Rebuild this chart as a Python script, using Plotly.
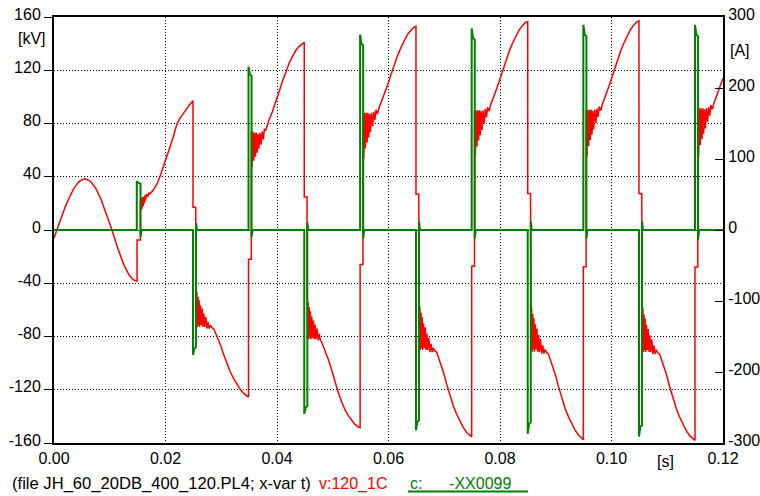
import plotly.graph_objects as go

# ---------------- data ----------------
# red trace v:120_1C  (kV, left axis) -- one list pair per half-cycle
v_t_00 = [0, 0.0005, 0.001, 0.0015, 0.002, 0.0025, 0.003, 0.0035, 0.004, 0.0045, 0.005,
          0.0056, 0.0065, 0.0075, 0.0085, 0.0095, 0.0104, 0.0115, 0.0125, 0.0135, 0.0142]
v_kv_00 = [-6, 0, 5.9, 11.7, 17.2, 22.2, 26.8, 30.7, 33.9, 36.3, 37.8,
           38.5, 36.8, 31.3, 22.4, 11.2, 0, -14.4, -25.8, -34.0, -37.3]

v_t_01 = [0.01489, 0.01489, 0.01550, 0.01550, 0.0156, 0.0157, 0.0158, 0.0159, 0.0160, 0.0161,
          0.0162, 0.0163, 0.0164, 0.0166, 0.0168, 0.0170, 0.0172, 0.0178, 0.0184, 0.0190,
          0.0196, 0.0201, 0.0207, 0.0214, 0.0220, 0.0226, 0.0232, 0.0238, 0.0244]
v_kv_01 = [-38.5, -7.5, -7.5, 22, 15, 24, 16, 25, 18, 25,
           20, 26, 22, 27, 25, 28, 27, 30, 34, 40,
           47, 53, 61, 70, 79, 84, 88, 91, 94.5]

v_t_02 = [0.02493, 0.02493, 0.02543, 0.02543, 0.02553, 0.02563, 0.02573, 0.02583, 0.02593, 0.02603,
          0.02613, 0.02628, 0.02643, 0.02658, 0.02673, 0.02688, 0.02703, 0.02723, 0.02743, 0.02763,
          0.02783, 0.02803, 0.02833, 0.02863, 0.02923, 0.02983, 0.03043, 0.03103, 0.03163, 0.03223,
          0.03283, 0.03343, 0.03403, 0.03463]
v_kv_02 = [97, 17, 17, -44.6, -72.8, -46.4, -72.8, -50.2, -71.5, -52.7,
           -72.8, -56.5, -71.5, -59.0, -72.8, -62.8, -72.8, -65.3, -74.0, -69.0,
           -74.0, -71.5, -73.4, -74.0, -79.7, -86.0, -93.5, -100.4, -106.7, -111.7,
           -116.1, -119.9, -122.7, -124.6]

v_t_03 = [0.03489, 0.03489, 0.03539, 0.03539, 0.03554, 0.03569, 0.03584, 0.03599, 0.03614, 0.03629,
          0.03644, 0.03659, 0.03674, 0.03694, 0.03714, 0.03734, 0.03754, 0.03774, 0.03799, 0.03829,
          0.03859, 0.03919, 0.03979, 0.04039, 0.04099, 0.04159, 0.04219, 0.04279, 0.04339, 0.04399,
          0.04449]
v_kv_03 = [-125.5, -22, -22, 74, 47.5, 74, 52, 73, 55, 73,
           58, 72, 61, 73, 64, 74, 68, 76, 75, 79,
           83, 89, 96, 104, 112, 119.5, 125.5, 130.5, 135, 138,
           140]

v_t_04 = [0.04489, 0.04489, 0.04539, 0.04539, 0.04549, 0.04559, 0.04569, 0.04579, 0.04589, 0.04599,
          0.04609, 0.04624, 0.04639, 0.04654, 0.04669, 0.04684, 0.04699, 0.04719, 0.04739, 0.04759,
          0.04779, 0.04799, 0.04829, 0.04859, 0.04919, 0.04979, 0.05039, 0.05099, 0.05159, 0.05219,
          0.05279, 0.05339, 0.05399, 0.05459]
v_kv_04 = [141, 24.7, 24.7, -52, -82, -54, -82, -58, -81, -61,
           -82, -65, -81, -68, -82, -71, -82, -74, -83, -78,
           -83, -84, -87, -90, -97, -105, -114, -122, -129, -135,
           -139.5, -143, -146, -148]

v_t_05 = [0.05491, 0.05491, 0.05541, 0.05541, 0.05556, 0.05571, 0.05586, 0.05601, 0.05616, 0.05631,
          0.05646, 0.05661, 0.05676, 0.05696, 0.05716, 0.05736, 0.05756, 0.05776, 0.05801, 0.05831,
          0.05861, 0.05921, 0.05981, 0.06041, 0.06101, 0.06161, 0.06221, 0.06281, 0.06341, 0.06401,
          0.06451]
v_kv_05 = [-148.5, -26, -26, 88.0, 53.6, 88.0, 61.2, 88.0, 65.8, 88.0,
           69.6, 87.2, 73.4, 88.0, 78.0, 88.7, 82.6, 90.3, 87.2, 91.8,
           94.9, 101.7, 108.6, 116.3, 123.9, 130.8, 136.9, 142.3, 146.9, 149.9,
           152.2]

v_t_06 = [0.06493, 0.06493, 0.06543, 0.06543, 0.06553, 0.06563, 0.06573, 0.06583, 0.06593, 0.06603,
          0.06613, 0.06628, 0.06643, 0.06658, 0.06673, 0.06688, 0.06703, 0.06723, 0.06743, 0.06763,
          0.06783, 0.06803, 0.06833, 0.06863, 0.06923, 0.06983, 0.07043, 0.07103, 0.07163, 0.07223,
          0.07283, 0.07343, 0.07403, 0.07463]
v_kv_06 = [153, 26.8, 26.8, -55.2, -90.2, -57.5, -90.2, -62.2, -88.6, -65.3,
           -90.2, -70.0, -88.6, -73.1, -90.2, -77.8, -90.2, -80.9, -91.7, -85.5,
           -91.7, -88.6, -91.0, -91.7, -98.7, -106.5, -115.8, -124.4, -132.2, -138.4,
           -143.8, -148.5, -152.1, -154.4]

v_t_07 = [0.07492, 0.07492, 0.07542, 0.07542, 0.07557, 0.07572, 0.07587, 0.07602, 0.07617, 0.07632,
          0.07647, 0.07662, 0.07677, 0.07697, 0.07717, 0.07737, 0.07757, 0.07777, 0.07802, 0.07832,
          0.07862, 0.07922, 0.07982, 0.08042, 0.08102, 0.08162, 0.08222, 0.08282, 0.08342, 0.08402,
          0.08452]
v_kv_07 = [-155.5, -27.2, -27.2, 90.0, 54.8, 90.0, 62.6, 90.0, 67.3, 90.0,
           71.2, 89.2, 75.1, 90.0, 79.8, 90.8, 84.5, 92.3, 89.2, 93.9,
           97.0, 104.1, 111.1, 118.9, 126.8, 133.8, 140.1, 145.5, 150.2, 153.4,
           155.7]

v_t_08 = [0.08497, 0.08497, 0.08547, 0.08547, 0.08557, 0.08567, 0.08577, 0.08587, 0.08597, 0.08607,
          0.08617, 0.08632, 0.08647, 0.08662, 0.08677, 0.08692, 0.08707, 0.08727, 0.08747, 0.08767,
          0.08787, 0.08807, 0.08837, 0.08867, 0.08927, 0.08987, 0.09047, 0.09107, 0.09167, 0.09227,
          0.09287, 0.09347, 0.09407, 0.09467]
v_kv_08 = [156.5, 27.4, 27.4, -55.9, -91.4, -58.3, -91.4, -63.0, -89.8, -66.2,
           -91.4, -70.9, -89.8, -74.0, -91.4, -78.8, -91.4, -81.9, -92.9, -86.6,
           -92.9, -89.8, -92.1, -92.9, -100.0, -107.9, -117.3, -126.0, -133.9, -140.2,
           -145.7, -150.4, -154.0, -156.4]

v_t_09 = [0.09495, 0.09495, 0.09545, 0.09545, 0.0956, 0.09575, 0.0959, 0.09605, 0.0962, 0.09635,
          0.0965, 0.09665, 0.0968, 0.097, 0.0972, 0.0974, 0.0976, 0.0978, 0.09805, 0.09835,
          0.09865, 0.09925, 0.09985, 0.10045, 0.10105, 0.10165, 0.10225, 0.10285, 0.10345, 0.10405,
          0.10455]
v_kv_09 = [-157.5, -27.6, -27.6, 90.4, 55.0, 90.4, 62.9, 90.4, 67.6, 90.4,
           71.5, 89.6, 75.5, 90.4, 80.2, 91.2, 84.9, 92.7, 89.6, 94.3,
           97.5, 104.5, 111.6, 119.5, 127.3, 134.4, 140.7, 146.2, 150.9, 154.1,
           156.4]

v_t_10 = [0.10493, 0.10493, 0.10543, 0.10543, 0.10553, 0.10563, 0.10573, 0.10583, 0.10593, 0.10603,
          0.10613, 0.10628, 0.10643, 0.10658, 0.10673, 0.10688, 0.10703, 0.10723, 0.10743, 0.10763,
          0.10783, 0.10803, 0.10833, 0.10863, 0.10923, 0.10983, 0.11043, 0.11103, 0.11163, 0.11223,
          0.11283, 0.11343, 0.11403, 0.11463]
v_kv_10 = [157.2, 27.5, 27.5, -56.1, -91.6, -58.5, -91.6, -63.2, -90.1, -66.4,
           -91.6, -71.1, -90.1, -74.3, -91.6, -79.0, -91.6, -82.2, -93.2, -86.9,
           -93.2, -90.1, -92.4, -93.2, -100.3, -108.2, -117.7, -126.4, -134.3, -140.6,
           -146.2, -150.9, -154.5, -156.9]

v_t_11 = [0.11498, 0.11498, 0.11548, 0.11548, 0.11563, 0.11578, 0.11593, 0.11608, 0.11623, 0.11638,
          0.11653, 0.11668, 0.11683, 0.11703, 0.11723, 0.11743, 0.11763, 0.11783, 0.11808, 0.11838,
          0.11868, 0.11928, 0.12]
v_kv_11 = [-158, -27.7, -27.7, 91.4, 55.7, 91.4, 63.6, 91.4, 68.4, 91.4,
           72.3, 90.6, 76.3, 91.4, 81.1, 92.2, 85.9, 93.8, 90.6, 95.4,
           98.6, 105.7, 114]

# green trace c: -XX0099 (A, right axis)
i_t = [0, 0.01485, 0.01485, 0.0150, 0.01552, 0.01552, 0.0157,
       0.02493, 0.02493, 0.02503, 0.02518, 0.02548, 0.02548, 0.02565,
       0.03489, 0.03489, 0.03499, 0.03514, 0.03544, 0.03544, 0.03561,
       0.04489, 0.04489, 0.04499, 0.04514, 0.04544, 0.04544, 0.04561,
       0.05491, 0.05491, 0.05501, 0.05516, 0.05546, 0.05546, 0.05563,
       0.06493, 0.06493, 0.06503, 0.06518, 0.06548, 0.06548, 0.06565,
       0.07492, 0.07492, 0.07502, 0.07517, 0.07547, 0.07547, 0.07564,
       0.08497, 0.08497, 0.08507, 0.08522, 0.08552, 0.08552, 0.08569,
       0.09495, 0.09495, 0.09505, 0.0952, 0.0955, 0.0955, 0.09567,
       0.10493, 0.10493, 0.10503, 0.10518, 0.10548, 0.10548, 0.10565,
       0.11498, 0.11498, 0.11508, 0.11523, 0.11553, 0.11553, 0.1157,
       0.12]
i_a = [0, 0, 69, 67, 65, -10, 0,
       0, -176, -171, -167, -165, 10, 0,
       0, 230, 224, 219, 217, -10, 0,
       0, -259, -254, -250, -248, 11, 0,
       0, 275, 268, 262, 260, -12, 0,
       0, -282, -276, -270, -268, 12, 0,
       0, 284, 276, 270, 268, -12, 0,
       0, -287, -280, -273, -271, 12, 0,
       0, 289, 282, 275, 273, -12, 0,
       0, -291, -284, -277, -275, 12, 0,
       0, 289, 282, 275, 273, -14, 0,
       0]

x_ticks = [0.00, 0.02, 0.04, 0.06, 0.08, 0.10, 0.12]
x_labels = ["0.00", "0.02", "0.04", "0.06", "0.08", "0.10", "0.12"]
kv_ticks = [-160, -120, -80, -40, 0, 40, 80, 120, 160]
kv_labels = ["-160", "-120", "-80", "-40", "0", "40", "80", "120", "160"]
a_ticks = [-300, -200, -100, 0, 100, 200, 300]
a_labels = ["-300", "-200", "-100", "0", "100", "200", "300"]

caption_file = "(file JH_60_20DB_400_120.PL4; x-var t)"
caption_v = "v:120_1C"
caption_c = "c:\u00a0\u00a0\u00a0\u00a0\u00a0\u00a0-XX0099"

# ---------------- figure ----------------
volt_t = (v_t_00 + v_t_01 + v_t_02 + v_t_03 + v_t_04 + v_t_05 + v_t_06 +
          v_t_07 + v_t_08 + v_t_09 + v_t_10 + v_t_11)
volt_kv = (v_kv_00 + v_kv_01 + v_kv_02 + v_kv_03 + v_kv_04 + v_kv_05 + v_kv_06 +
           v_kv_07 + v_kv_08 + v_kv_09 + v_kv_10 + v_kv_11)

FONT = "Liberation Sans, Arial, sans-serif"
RED = "#ff0000"
GREEN = "#008000"

fig = go.Figure()
fig.add_trace(go.Scatter(x=volt_t, y=volt_kv, mode="lines",
                         line=dict(color=RED, width=1.5), yaxis="y", hoverinfo="skip"))
fig.add_trace(go.Scatter(x=i_t, y=i_a, mode="lines",
                         line=dict(color=GREEN, width=2), yaxis="y2", hoverinfo="skip"))

grid = dict(showgrid=True, gridcolor="#000000", gridwidth=1, griddash="1px,2px")

fig.update_layout(
    width=760, height=496,
    margin=dict(l=54, r=37, t=17, b=53, autoexpand=False),
    paper_bgcolor="white", plot_bgcolor="white",
    showlegend=False, hovermode=False,
    font=dict(family=FONT, size=16, color="black"),
    xaxis=dict(range=[0, 0.12], tickvals=x_ticks, ticktext=x_labels, automargin=False,
               showline=True, linecolor="black", linewidth=2, mirror=True,
               zeroline=False, ticks="", ticklabelstandoff=0,
               ticklabeloverflow="allow", **grid),
    yaxis=dict(range=[-160, 160], tickvals=kv_ticks, ticktext=kv_labels, automargin=False,
               showline=True, linecolor="black", linewidth=2, mirror=True,
               zeroline=False, ticks="outside", ticklen=8, tickcolor="black",
               tickwidth=1, ticklabelshift=-3, ticklabeloverflow="allow", **grid),
    yaxis2=dict(range=[-300, 300], tickvals=a_ticks, ticktext=a_labels, automargin=False,
                overlaying="y", side="right",
                showgrid=False, zeroline=False, showline=True, linecolor="black",
                linewidth=2, ticks="inside", ticklen=8, tickcolor="black", tickwidth=1,
                ticklabelshift=-3, ticklabeloverflow="allow"),
)

ann = [
    dict(text="[kV]", xref="paper", x=0, xanchor="right", xshift=-6,
         yref="y", y=143.5, yanchor="middle", showarrow=False),
    dict(text="[A]", xref="paper", x=1, xanchor="left", xshift=5,
         yref="y", y=135, yanchor="middle", showarrow=False),
    dict(text="[s]", xref="x", x=0.1096, xanchor="center",
         yref="paper", y=-0.0446, yanchor="middle", showarrow=False),
    dict(text=caption_file, xref="paper", x=-0.0658, xanchor="left",
         yref="paper", y=-0.0962, yanchor="middle", showarrow=False,
         font=dict(size=16.6)),
    dict(text=caption_v, xref="paper", x=0.3931, xanchor="left",
         yref="paper", y=-0.0962, yanchor="middle", showarrow=False,
         font=dict(color=RED)),
    dict(text=caption_c, xref="paper", x=0.5291, xanchor="left",
         yref="paper", y=-0.0962, yanchor="middle", showarrow=False,
         font=dict(color=GREEN)),
]
for a in ann:
    fig.add_annotation(**a)

fig.add_shape(type="line", xref="paper", yref="paper",
              x0=0.5291, x1=0.7085, y0=-0.1138, y1=-0.1138,
              line=dict(color=GREEN, width=2))

# remove the browser's default 8 px body margin so the 760x496 figure fills the window
fig.write_html("out.html",
               config={"displayModeBar": False, "staticPlot": True},
               post_script="document.body.style.margin='0px';document.body.style.overflow='hidden';")
